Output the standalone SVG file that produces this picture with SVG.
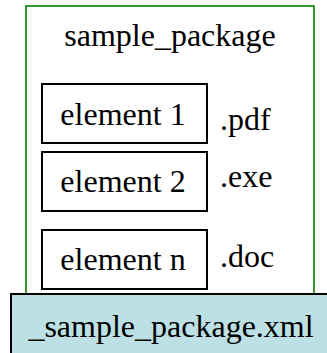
<svg xmlns="http://www.w3.org/2000/svg" width="327" height="353" viewBox="0 0 327 353">
<style>
text{font-family:"Liberation Serif","Times New Roman",serif;font-size:32px;fill:#000}
.el{fill:#fff;stroke:#000;stroke-width:2}
.c{text-anchor:middle}
</style>
<rect width="327" height="353" fill="#fff"/>
<g id="package">
<rect x="26" y="6" width="288" height="300" fill="#fff" stroke="#008000" stroke-width="1.6"/>
<text class="c" x="170" y="46">sample_package</text>
</g>
<g id="element1">
<rect class="el" x="42" y="84" width="165" height="59"/>
<text class="c" x="123" y="125">element 1</text>
<text x="220" y="130">.pdf</text>
</g>
<g id="element2">
<rect class="el" x="42" y="152" width="165" height="59"/>
<text class="c" x="123" y="192">element 2</text>
<text x="220" y="187">.exe</text>
</g>
<g id="elementn">
<rect class="el" x="42" y="230" width="165" height="59"/>
<text class="c" x="123" y="270">element n</text>
<text x="220" y="267">.doc</text>
</g>
<g id="xml">
<rect x="11" y="294" width="320" height="65" fill="#bce0e3" stroke="#000" stroke-width="2"/>
<text class="c" x="171" y="337">_sample_package.xml</text>
</g>
<g id="connectors"></g>
</svg>
